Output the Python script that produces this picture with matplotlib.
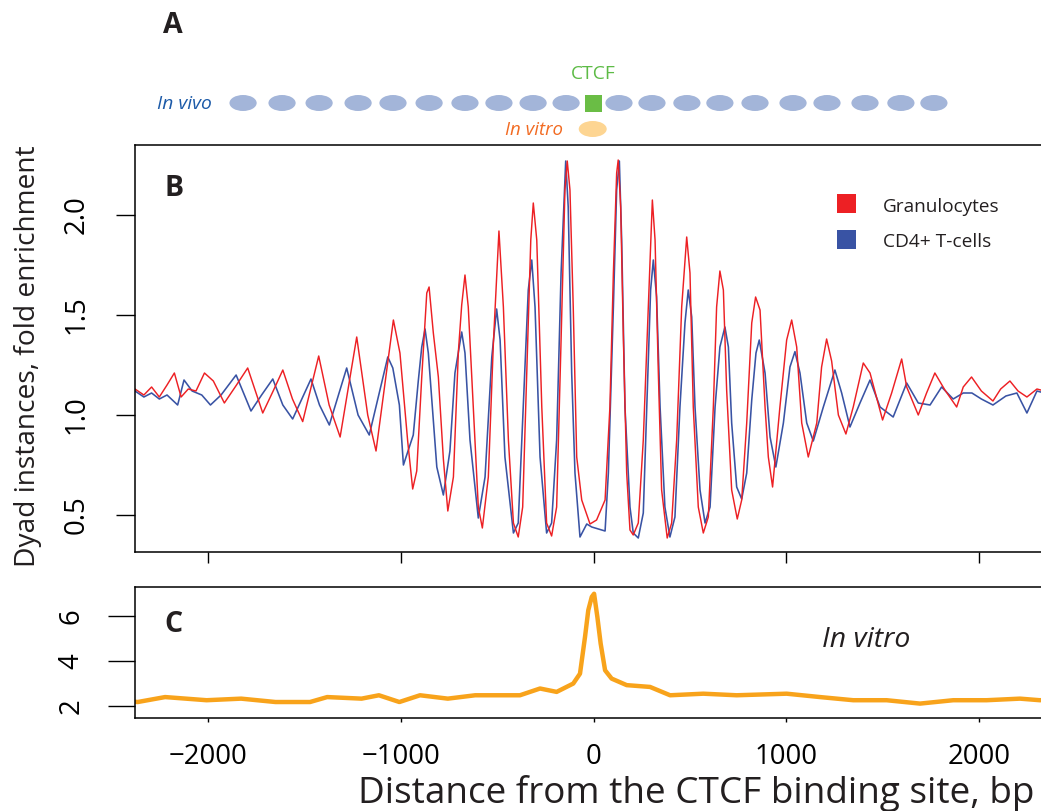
import matplotlib
matplotlib.use("Agg")
import matplotlib.pyplot as plt
from matplotlib.patches import Ellipse, Rectangle

W, H = 1041, 811
plt.rcParams['font.family'] = ['Open Sans', 'DejaVu Sans']

# ---------------- data ----------------
red_pos = [-2376, -2330, -2290, -2250, -2210, -2172, -2137, -2100, -2060, -2016,
           -1970, -1913, -1850, -1792, -1714, -1660, -1610, -1560, -1507, -1424,
           -1370, -1313, -1227, -1170, -1127, -1037, -1003, -963, -937, -916,
           -890, -864, -852, -830, -804, -778, -755, -726, -700, -683,
           -666, -649, -623, -597, -576, -545, -519, -490, -467, -441,
           -415, -390, -367, -346, -325, -312, -294, -268, -243, -217,
           -191, -168, -148, -136, -122, -105, -87, -61, -18, 16,
           60, 85, 103, 120, 128, 141, 155, 172, 189, 206,
           232, 258, 284, 305, 319, 336, 353, 382, 405, 431,
           457, 483, 500, 517, 543, 569, 595, 621, 638, 655,
           673, 690, 716, 745, 768, 794, 820, 840, 863, 889,
           906, 928, 966, 1001, 1027, 1053, 1079, 1113, 1157, 1182,
           1208, 1234, 1269, 1308, 1346, 1398, 1433, 1498, 1545, 1597,
           1623, 1683, 1726, 1769, 1821, 1882, 1916, 1959, 2010, 2070,
           2110, 2158, 2200, 2246, 2298, 2376]
red_val = [1.13, 1.10, 1.14, 1.09, 1.15, 1.21, 1.09, 1.13, 1.12, 1.21,
           1.17, 1.06, 1.15, 1.235, 1.01, 1.12, 1.225, 1.08, 0.967, 1.295,
           1.05, 0.89, 1.39, 1.00, 0.82, 1.475, 1.31, 0.87, 0.63, 0.72,
           1.19, 1.61, 1.64, 1.41, 1.19, 0.78, 0.52, 0.69, 1.32, 1.55,
           1.70, 1.54, 1.04, 0.54, 0.435, 0.69, 1.355, 1.92, 1.54, 0.875,
           0.46, 0.39, 0.54, 1.21, 1.875, 2.06, 1.875, 1.04, 0.46, 0.395,
           0.54, 1.375, 2.125, 2.27, 2.125, 1.54, 0.79, 0.575, 0.455, 0.475,
           0.575, 1.04, 1.71, 2.21, 2.275, 2.04, 1.375, 0.71, 0.425, 0.40,
           0.46, 0.875, 1.54, 2.075, 1.875, 1.21, 0.625, 0.385, 0.46, 0.875,
           1.54, 1.89, 1.71, 1.04, 0.54, 0.41, 0.49, 1.04, 1.54, 1.72,
           1.625, 1.125, 0.625, 0.48, 0.575, 0.96, 1.46, 1.59, 1.525, 1.04,
           0.79, 0.64, 1.04, 1.375, 1.475, 1.34, 0.96, 0.79, 0.96, 1.24,
           1.38, 1.27, 1.00, 0.905, 1.04, 1.26, 1.21, 0.975, 1.11, 1.28,
           1.14, 1.00, 1.11, 1.21, 1.125, 1.04, 1.14, 1.19, 1.12, 1.07,
           1.13, 1.17, 1.12, 1.09, 1.13, 1.11]

blue_pos = [-2376, -2330, -2290, -2250, -2210, -2155, -2122, -2080, -2030, -1985,
            -1930, -1852, -1775, -1720, -1662, -1610, -1559, -1464, -1420, -1369,
            -1279, -1220, -1162, -1066, -1040, -1006, -985, -934, -908, -890,
            -873, -856, -838, -812, -778, -744, -718, -683, -666, -640,
            -597, -562, -527, -502, -484, -459, -415, -390, -364, -338,
            -320, -303, -277, -243, -217, -191, -168, -144, -131, -113,
            -96, -70, -35, -9, 25, 60, 77, 103, 120, 134,
            146, 163, 189, 206, 232, 258, 276, 296, 310, 327,
            345, 370, 396, 422, 448, 474, 491, 509, 526, 552,
            578, 604, 630, 655, 681, 699, 716, 742, 768, 794,
            820, 842, 859, 889, 915, 945, 984, 1018, 1044, 1070,
            1105, 1139, 1191, 1251, 1286, 1329, 1381, 1433, 1485, 1553,
            1623, 1683, 1744, 1804, 1864, 1916, 1961, 2010, 2070, 2137,
            2194, 2246, 2298, 2376]
blue_val = [1.12, 1.09, 1.11, 1.08, 1.10, 1.05, 1.175, 1.12, 1.10, 1.05,
            1.10, 1.20, 1.02, 1.10, 1.18, 1.05, 0.98, 1.18, 1.05, 0.95,
            1.235, 1.00, 0.90, 1.29, 1.235, 1.05, 0.75, 0.90, 1.17, 1.34,
            1.43, 1.31, 1.075, 0.74, 0.60, 0.82, 1.21, 1.415, 1.31, 0.875,
            0.485, 0.69, 1.29, 1.53, 1.375, 0.79, 0.41, 0.46, 1.04, 1.625,
            1.775, 1.54, 0.79, 0.41, 0.46, 0.875, 1.71, 2.27, 2.04, 1.21,
            0.71, 0.39, 0.455, 0.44, 0.43, 0.42, 0.71, 1.54, 2.125, 2.27,
            1.875, 1.04, 0.54, 0.41, 0.385, 0.51, 1.04, 1.625, 1.775, 1.59,
            1.04, 0.54, 0.39, 0.49, 1.04, 1.46, 1.625, 1.49, 1.04, 0.625,
            0.46, 0.54, 1.04, 1.34, 1.44, 1.34, 0.96, 0.64, 0.58, 0.71,
            1.075, 1.31, 1.375, 1.21, 0.89, 0.74, 0.96, 1.24, 1.317, 1.21,
            0.96, 0.87, 1.04, 1.225, 1.11, 0.94, 1.06, 1.175, 1.04, 0.99,
            1.16, 1.06, 1.05, 1.14, 1.08, 1.11, 1.11, 1.08, 1.05, 1.095,
            1.11, 1.01, 1.12, 1.10]

vitro_pos = [-2376, -2362, -2220, -2005, -1826, -1648, -1469, -1380, -1202, -1112,
             -1006, -899, -755, -613, -488, -381, -277, -191, -105, -70,
             -44, -27, -9, 3, 20, 37, 60, 94, 172, 293,
             397, 569, 742, 1001, 1174, 1346, 1519, 1692, 1864, 2037,
             2210, 2313, 2376]
vitro_val = [2.20, 2.19, 2.41, 2.27, 2.34, 2.19, 2.19, 2.41, 2.34, 2.49,
             2.19, 2.49, 2.34, 2.49, 2.49, 2.49, 2.79, 2.64, 3.01, 3.45,
             5.08, 6.27, 6.86, 7.00, 5.97, 4.79, 3.60, 3.23, 2.94, 2.86,
             2.49, 2.56, 2.49, 2.56, 2.41, 2.27, 2.27, 2.12, 2.27, 2.27,
             2.34, 2.27, 2.30]

series_labels = ["Granulocytes", "CD4+ T-cells"]
nucleosome_pos = [-1816, -1614, -1422, -1220, -1039, -852, -666, -490, -313, -142,
                  132, 303, 484, 655, 837, 1034, 1210, 1407, 1593, 1764]
ctcf_pos = 0
b_yticks = [0.5, 1.0, 1.5, 2.0]
b_yticklabels = ["0.5", "1.0", "1.5", "2.0"]
c_yticks = [2, 4, 6]
xticks = [-2000, -1000, 0, 1000, 2000]

assert len(red_pos) == len(red_val)
assert len(blue_pos) == len(blue_val)
assert len(vitro_pos) == len(vitro_val)

# ---------------- style ----------------
RED = '#ED2024'
BLUE = '#3953A4'
ORANGE = '#F8A31B'
NUC = '#A3B5D9'
GREEN_SQ = '#6ABD45'
VITRO_NUC = '#FDD592'
XLIM = (-2376, 2376)

fig = plt.figure(figsize=(W / 100, H / 100), dpi=100)


def rect(l, t, r, b):
    return [l / W, 1 - b / H, (r - l) / W, (b - t) / H]


# panel B
axB = fig.add_axes(rect(135, 145, 1052, 552))
axB.plot(blue_pos, blue_val, color=BLUE, lw=1.15, solid_joinstyle='round')
axB.plot(red_pos, red_val, color=RED, lw=1.05, solid_joinstyle='round')
axB.set_xlim(XLIM)
axB.set_ylim(0.315, 2.35)
axB.set_yticks(b_yticks)
axB.set_yticklabels(b_yticklabels)
axB.set_xticks(xticks)
axB.set_xticklabels([])
axB.tick_params(axis='y', length=13.7, width=1.0, pad=18, labelsize=19.8,
                labelrotation=90, direction='out')
axB.tick_params(axis='x', length=8, width=1.0, direction='out')
for lab in axB.get_yticklabels():
    lab.set_va('center')

# panel C
axC = fig.add_axes(rect(135, 587, 1052, 718))
axC.plot(vitro_pos, vitro_val, color=ORANGE, lw=3.2, solid_joinstyle='round')
axC.set_xlim(XLIM)
axC.set_ylim(1.48, 7.30)
axC.set_yticks(c_yticks)
axC.set_xticks(xticks)
axC.set_xticklabels(["\u22122000", "\u22121000", "0", "1000", "2000"])
axC.tick_params(axis='y', length=19.4, width=1.0, pad=16, labelsize=19.8,
                labelrotation=90, direction='out')
axC.tick_params(axis='x', length=3, width=1.0, pad=15, labelsize=19.8, direction='out')
for lab in axC.get_yticklabels():
    lab.set_va('center')

for ax in (axB, axC):
    for s in ax.spines.values():
        s.set_linewidth(1.1)
        s.set_color('black')

# panel A schematic (shares the bp axis of B)
axA = fig.add_axes(rect(135, 55, 1052, 145))
axA.set_xlim(XLIM)
axA.set_ylim(145, 55)
axA.axis('off')
for p in nucleosome_pos:
    axA.add_patch(Ellipse((p, 103), width=141, height=16, color=NUC, lw=0))
axA.add_patch(Rectangle((ctcf_pos - 44, 94.5), 88, 17, color=GREEN_SQ, lw=0))
axA.add_patch(Ellipse((ctcf_pos - 4, 129), width=145, height=16, color=VITRO_NUC, lw=0))

# overlay in pixel coordinates for text / legend
ov = fig.add_axes([0, 0, 1, 1])
ov.set_xlim(0, W)
ov.set_ylim(H, 0)
ov.axis('off')

renderer = fig.canvas.get_renderer()


def fit(t, target, dim='w'):
    bb = t.get_window_extent(renderer=renderer)
    cur = bb.width if dim == 'w' else bb.height
    t.set_fontsize(t.get_fontsize() * target / cur)


# legend
ov.add_patch(Rectangle((837, 194), 19, 19, color=RED, lw=0))
ov.add_patch(Rectangle((837, 230), 19, 19, color=BLUE, lw=0))
t = ov.text(883, 211.7, series_labels[0], ha='left', va='baseline', fontsize=13, color='#231F20')
fit(t, 116)
t = ov.text(883, 247.3, series_labels[1], ha='left', va='baseline', fontsize=13, color='#231F20')
fit(t, 108)

# panel letters
for letter, x, y in (("A", 173, 32.7), ("B", 174, 196), ("C", 173, 631.7)):
    ov.text(x, y, letter, ha='center', va='baseline', fontsize=20.5,
            fontweight='bold', color='#231F20')

# schematic texts
t = ov.text(212, 109.3, "In vivo", ha='right', va='baseline', style='italic',
            fontsize=14, color='#1C5AA8')
fit(t, 55)
t = ov.text(563, 135, "In vitro", ha='right', va='baseline', style='italic',
            fontsize=14, color='#F26B22')
fit(t, 58)
t = ov.text(593.5, 79, "CTCF", ha='center', va='baseline', fontsize=14, color='#5DBB46')
fit(t, 45)

# C inset label
t = ov.text(866, 647.3, "In vitro", ha='center', va='baseline', style='italic',
            fontsize=20, color='#231F20')
fit(t, 88)

# axis labels
t = ov.text(696.5, 802.7, "Distance from the CTCF binding site, bp", ha='center',
            va='baseline', fontsize=23, color='#231F20')
fit(t, 679)
t = ov.text(35, 356, "Dyad instances, fold enrichment", ha='center', va='baseline',
            rotation=90, rotation_mode='anchor', fontsize=19, color='#231F20')
fit(t, 422, dim='h')

fig.savefig("out.png", dpi=100)
